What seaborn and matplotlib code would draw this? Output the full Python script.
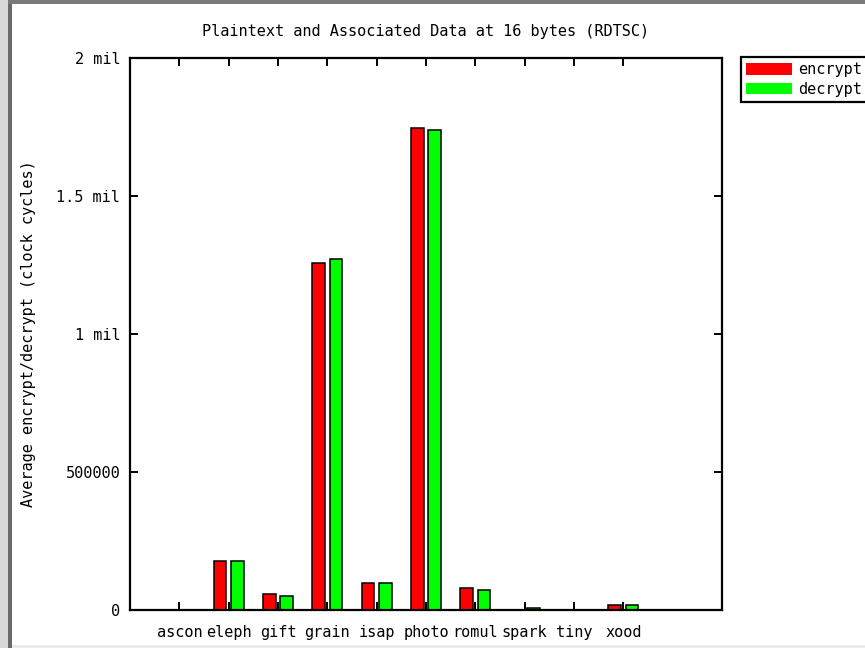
import matplotlib
matplotlib.use("Agg")
import matplotlib.pyplot as plt
from matplotlib.patches import Patch, Rectangle
import pandas as pd
import seaborn as sns

# values (clock cycles)
ciphers = ["ascon", "eleph", "gift", "grain", "isap", "photo", "romul", "spark", "tiny", "xood"]
encrypt = [0, 178000, 57000, 1257000, 97000, 1745000, 79000, 0, 0, 17000]
decrypt = [0, 178000, 50000, 1272000, 97000, 1738000, 74000, 6000, 0, 17000]
series = ["encrypt", "decrypt"]
colors = ["#ff0000", "#00ff00"]
ytick_vals = [0, 500000, 1000000, 1500000, 2000000]
ytick_labels = ["0", "500000", "1 mil", "1.5 mil", "2 mil"]

df = pd.DataFrame({
    "cipher": ciphers * 2,
    "cycles": encrypt + decrypt,
    "op": ["encrypt"] * len(ciphers) + ["decrypt"] * len(ciphers),
})

sns.set_theme(style="ticks")
plt.rcParams["font.family"] = ["DejaVu Sans Mono"]
plt.rcParams["text.color"] = "black"
plt.rcParams["axes.labelcolor"] = "black"
plt.rcParams["xtick.color"] = "black"
plt.rcParams["ytick.color"] = "black"

W, H = 865, 648
fig = plt.figure(figsize=(W / 100, H / 100), dpi=100)
ax = fig.add_axes([130 / W, 1 - 610 / H, (722 - 130) / W, (610 - 58) / H])

sns.barplot(
    data=df, x="cipher", y="cycles", hue="op", order=ciphers, hue_order=series,
    palette=colors, width=0.7, gap=0.27, edgecolor="black", linewidth=1.1,
    saturation=1, legend=False, ax=ax,
)

ax.set_xlim(-1, 11)
ax.set_ylim(0, 2000000)
ax.set_yticks(ytick_vals)
ax.set_yticklabels(ytick_labels)
ax.set_xlabel("")
ax.set_ylabel("Average encrypt/decrypt (clock cycles)", fontsize=11, color="black")
ax.yaxis.set_label_coords(36 / W, 0.485, transform=fig.transFigure)
ax.set_title("Plaintext and Associated Data at 16 bytes (RDTSC)", fontsize=11, pad=16,
             color="black")

# gnuplot-style mirrored ticks pointing inwards
ax.xaxis.set_ticks_position("both")
ax.yaxis.set_ticks_position("both")
ax.tick_params(axis="both", which="major", direction="in", length=6, width=1.4,
               color="black", labelsize=11, labelcolor="black")
ax.tick_params(axis="y", pad=7, left=True, right=True, labelleft=True, labelright=False)
ax.tick_params(axis="x", pad=11, bottom=True, top=True, labelbottom=True, labeltop=False)
for sp in ax.spines.values():
    sp.set_color("black")
    sp.set_linewidth(1.6)

handles = [Patch(facecolor=c, edgecolor="none", label=s) for c, s in zip(colors, series)]
leg = ax.legend(
    handles=handles, loc="upper left", bbox_to_anchor=(741 / W, 1 - 57 / H),
    bbox_transform=fig.transFigure, borderaxespad=0, fontsize=11,
    handlelength=3.0, handleheight=0.8, handletextpad=0.4, borderpad=0.35,
    labelspacing=0.3, fancybox=False, framealpha=1,
)
leg.get_frame().set_edgecolor("black")
leg.get_frame().set_linewidth(1.6)

# window frame of the screenshot
fig.patches.append(Rectangle((0, 0), 8 / W, 1, transform=fig.transFigure,
                             facecolor="#d8d8d8", edgecolor="none", zorder=5))
fig.patches.append(Rectangle((8 / W, 0), 4 / W, 1, transform=fig.transFigure,
                             facecolor="#6a6a6a", edgecolor="none", zorder=5))
fig.patches.append(Rectangle((8 / W, 1 - 4 / H), 1, 4 / H, transform=fig.transFigure,
                             facecolor="#7a7a7a", edgecolor="none", zorder=5))
fig.patches.append(Rectangle((12 / W, 0), 1, 3 / H, transform=fig.transFigure,
                             facecolor="#ececec", edgecolor="none", zorder=5))

fig.savefig("out.png", dpi=100)
